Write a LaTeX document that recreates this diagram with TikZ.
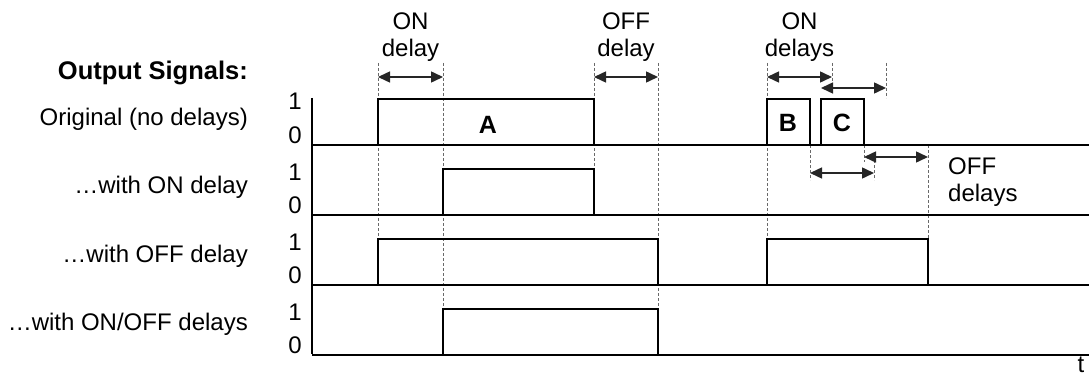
\documentclass[tikz,border=0pt]{standalone}
\usepackage{fontspec}
\setmainfont{Liberation Sans}
\usetikzlibrary{arrows.meta}
\definecolor{guidegray}{RGB}{105,105,105}

\begin{document}
\begin{tikzpicture}[x=1pt,y=-1pt,font=\fontsize{24}{27}\selectfont,
  >={Triangle[length=12pt,width=11pt]},
  sig/.style={line width=2pt,line join=miter},
  guide/.style={guidegray,line width=0.8pt,dash pattern=on 3pt off 2pt},
  dly/.style={<->,line width=1.5pt,black!85},
  lbl/.style={inner sep=0pt,align=center},
  pulse/.style={font=\fontsize{25}{28}\selectfont\bfseries}]
  \useasboundingbox[fill=white] (0,0) rectangle (1089,377);
  % dashed guides first, signals go on top
  \foreach \x/\ya/\yb in {378/63/238, 443/63/308, 594/63/169, 658/63/308,
      767/63/238, 832/63/82, 886/63/98, 810/145/180, 864/145/162,
      874/160/180, 928/145/238}
    \draw[guide] (\x,\ya) -- (\x,\yb);
  % axes, one row every 70px
  \draw[sig] (312,98) -- (312,354);
  \node[anchor=base east,inner sep=0pt,font=\fontsize{25.5}{28}\selectfont\bfseries]
    (title) at (248,80) {Output Signals:};
  \foreach \i/\lb/\txt in {0/125/{Original (no delays)}, 1/193.5/{…with ON delay},
      2/262/{…with OFF delay}, 3/330.5/{…with ON/OFF delays}} {
    \pgfmathsetmacro{\b}{145+70*\i}
    \draw[sig] (312,\b) -- (1089,\b);
    \node[anchor=base east,inner sep=0pt] (row\i) at (248,\lb) {\txt};
    \node[anchor=base,inner sep=0pt] (hi\i) at (295,\b-35) {1};
    \node[anchor=base,inner sep=0pt] (lo\i) at (295,\b-2) {0};
  }
  % pulses: row / rise / fall
  \foreach \i/\r/\f in {0/378/594, 0/767/810, 0/821/864, 1/443/594,
      2/378/658, 2/767/928, 3/443/658}
    \draw[sig] (\r,145+70*\i) |- (\f,99+70*\i) -- (\f,145+70*\i);
  \node[pulse] (pA) at (488,125) {A};
  \node[pulse] (pB) at (788,123) {B};
  \node[pulse] (pC) at (842,123) {C};
  % delay arrows
  \foreach \n/\xa/\xb/\y in {onA/378/443/77, offA/594/658/77, onB/767/832/77,
      onC/821/886/88, offB/810/874/173, offC/864/928/157} {
    \coordinate (\n-l) at (\xa,\y);
    \coordinate (\n-r) at (\xb,\y);
    \draw[dly] (\n-l) -- (\n-r);
  }
  \node[lbl] (lonA) at (410.5,37) {ON\\delay};
  \node[lbl] (loffA) at (626,37) {OFF\\delay};
  \node[lbl] (lonBC) at (799.5,37) {ON\\delays};
  \node[lbl,anchor=west,align=left] (loffBC) at (948,182) {OFF\\delays};
  \node[anchor=base,inner sep=0pt] (tlbl) at (1081,372) {t};
\end{tikzpicture}
\end{document}
